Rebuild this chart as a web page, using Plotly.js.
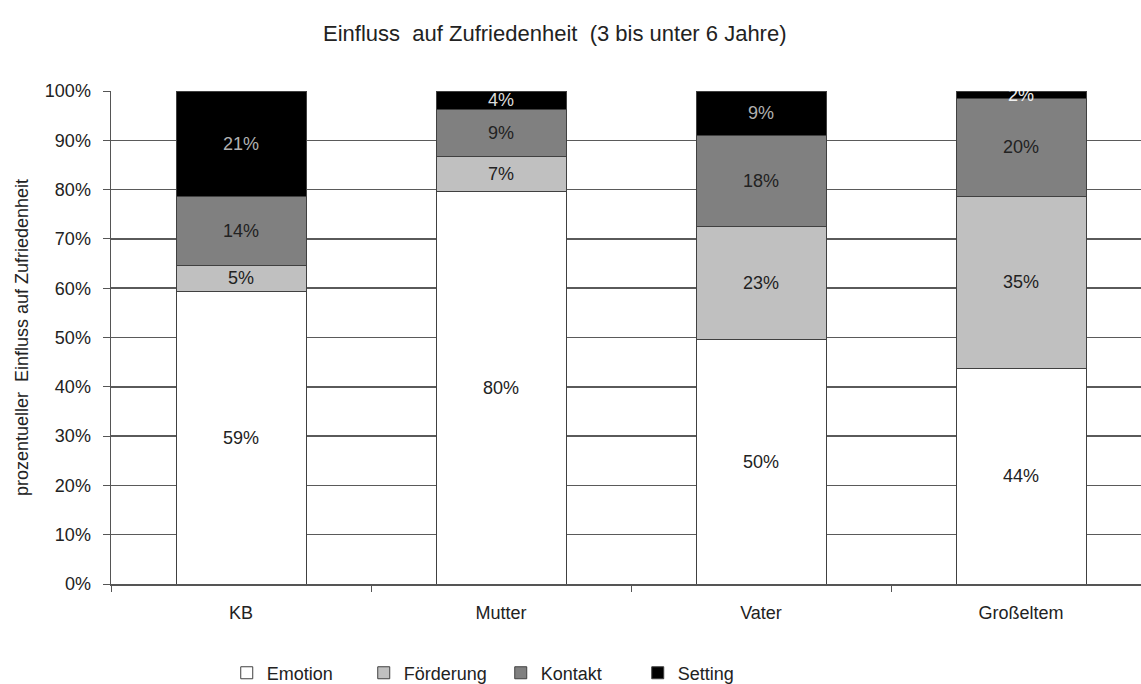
<!DOCTYPE html>
<html>
<head>
<meta charset="utf-8">
<script src="https://cdn.plot.ly/plotly-3.0.1.min.js"></script>
<style>
  html, body { margin: 0; padding: 0; overflow: hidden; background: #fff; }
</style>
</head>
<body>
<div id="chart"></div>
<script>
    // Anteile je Gruppe (als Bruchteile, Summe je Balken = 1)
    var categories = ['KB', 'Mutter', 'Vater', 'Großeltem'];
    var emotion    = [0.594, 0.797, 0.496, 0.438];
    var foerderung = [0.053, 0.071, 0.229, 0.349];
    var kontakt    = [0.139, 0.094, 0.184, 0.197];
    var setting    = [0.214, 0.038, 0.091, 0.016];

    var seriesNames = ['Emotion', 'Förderung', 'Kontakt', 'Setting'];
    var seriesValues = [emotion, foerderung, kontakt, setting];
    var fillColors = ['#ffffff', '#c0c0c0', '#808080', '#000000'];
    var labelColors = ['#222222', '#222222', '#222222',
                       ['#b0b0b0', '#dcdcdc', '#b0b0b0', '#f0f0f0']];

    var data = [];
    for (var i = 0; i < seriesNames.length; i++) {
        data.push({
            type: 'bar',
            name: seriesNames[i],
            x: categories,
            y: seriesValues[i],
            marker: {
                color: fillColors[i],
                line: { color: '#404040', width: 1 }
            },
            texttemplate: '%{y:.0%}',
            textposition: 'inside',
            insidetextanchor: 'middle',
            constraintext: 'none',
            textfont: { size: 18, color: labelColors[i] },
            hoverinfo: 'skip'
        });
    }

    var layout = {
        width: 1151,
        height: 684,
        barmode: 'stack',
        bargap: 0.5,
        paper_bgcolor: '#ffffff',
        plot_bgcolor: '#ffffff',
        font: { family: 'Liberation Sans, Arial, sans-serif', size: 18, color: '#222222' },
        margin: { l: 111, r: 0, t: 91, b: 100, autoexpand: false },
        title: {
            text: 'Einfluss  auf Zufriedenheit  (3 bis unter 6 Jahre)',
            font: { size: 22, color: '#222222' },
            x: 0.482,
            xref: 'container',
            xanchor: 'center',
            y: 0.952,
            yref: 'container',
            yanchor: 'middle'
        },
        xaxis: {
            type: 'category',
            showline: true,
            linecolor: '#555555',
            linewidth: 1.5,
            ticks: 'outside',
            tickson: 'boundaries',
            ticklen: 6,
            tickcolor: '#555555',
            ticklabelstandoff: 12,
            tickfont: { size: 18 },
            showgrid: false
        },
        yaxis: {
            range: [0, 1],
            dtick: 0.1,
            tickformat: '.0%',
            showline: true,
            linecolor: '#555555',
            linewidth: 1.5,
            ticks: 'outside',
            ticklen: 7,
            tickcolor: '#555555',
            ticklabelstandoff: 8,
            tickfont: { size: 18 },
            showgrid: true,
            gridcolor: '#5a5a5a',
            gridwidth: 1.5,
            zeroline: false,
            automargin: false,
            title: {
                text: 'prozentueller  Einfluss auf Zufriedenheit',
                font: { size: 18 },
                standoff: 11
            }
        },
        showlegend: true,
        legend: {
            orientation: 'h',
            xref: 'container',
            x: 0.197,
            xanchor: 'left',
            yref: 'container',
            y: 0.016,
            yanchor: 'middle',
            traceorder: 'normal',
            entrywidth: 92,
            itemwidth: 30,
            font: { size: 18 }
        }
    };

    Plotly.newPlot('chart', data, layout, { displayModeBar: false, staticPlot: true });
</script>
</body>
</html>
